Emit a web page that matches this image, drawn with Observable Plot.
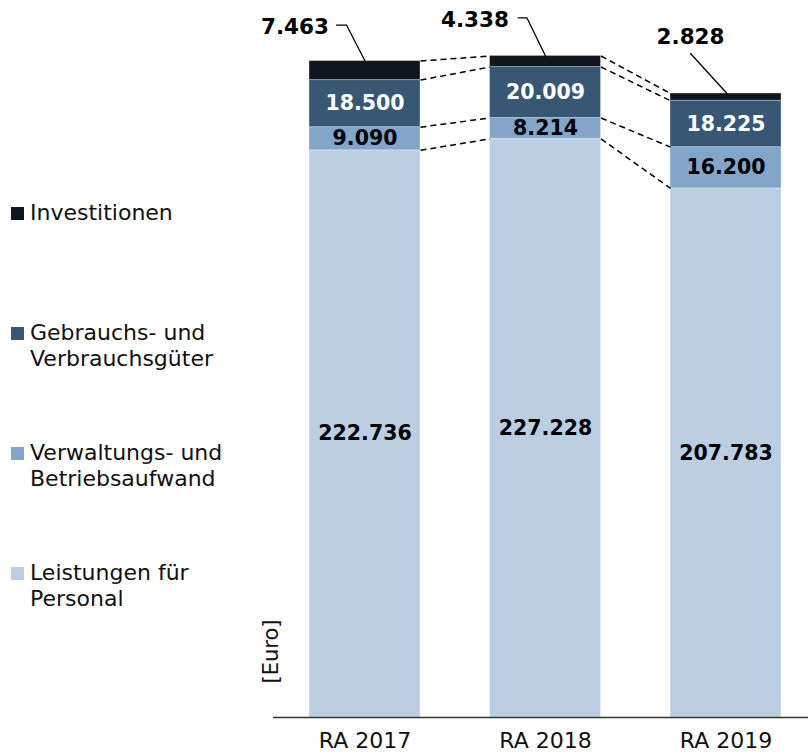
<!DOCTYPE html>
<html>
<head>
<meta charset="utf-8">
<script src="https://cdn.jsdelivr.net/npm/d3@7"></script>
<script src="https://cdn.jsdelivr.net/npm/@observablehq/plot@0.6"></script>
<style>
  html, body { margin: 0; padding: 0; background: #fff; }
  #wrap { position: relative; width: 808px; height: 755px; font-family: "DejaVu Sans", Verdana, sans-serif; }
  #legend { position: absolute; left: 0; top: 0; }
  .item { position: absolute; left: 30px; width: 215px; font-size: 22px; line-height: 26px; color: #111; }
  .sw { position: absolute; left: -19px; top: 7px; width: 13px; height: 13px; }
</style>
</head>
<body>
<div id="wrap">
  <div id="chart"></div>
  <div id="legend"></div>
</div>
<script>
// ---- data ----
const categories = ["RA 2017", "RA 2018", "RA 2019"];
const series = ["Leistungen für Personal", "Verwaltungs- und Betriebsaufwand", "Gebrauchs- und Verbrauchsgüter", "Investitionen"];
const leistungen = [222736, 227228, 207783];
const verwaltung = [9090, 8214, 16200];
const gebrauch = [18500, 20009, 18225];
const investitionen = [7463, 4338, 2828];
const colors = ["#bccfe2", "#82a5c8", "#375775", "#0f161e"];

// ---- layout ----
const W = 808, H = 755, mL = 273, mR = 0, mT = 4, mB = 38;
const xDomain = [-0.507, 2.457];
const yMax = 280000;
const xPerPx = (xDomain[1] - xDomain[0]) / (W - mL - mR);
const yPerPx = yMax / (H - mT - mB);
const hw = 55.5 * xPerPx; // half bar width

const fmt = d3.formatLocale({decimal: ",", thousands: ".", grouping: [3], currency: ["", "€"]}).format(",d");

const valueSeries = [leistungen, verwaltung, gebrauch, investitionen];
const segments = [];
const tops = []; // tops[i][k] cumulative top of segment k
categories.forEach((c, i) => {
  let acc = 0;
  tops[i] = [];
  valueSeries.forEach((vals, s) => {
    segments.push({i, s, name: series[s], y1: acc, y2: acc + vals[i], v: vals[i]});
    acc += vals[i];
    tops[i][s] = acc;
  });
});

// dashed connectors between adjacent bars at each segment boundary
const connectors = [];
for (let i = 0; i < categories.length - 1; i++) {
  for (let k = 0; k < series.length; k++) {
    connectors.push({x1: i + hw, y1: tops[i][k], x2: i + 1 - hw, y2: tops[i + 1][k]});
  }
}

// leader lines & labels for the small top segment (offsets in px)
const investLayout = [
  {anchor: "end", tx: -36, ty: -34, path: [[-28.5, -36], [-18.5, -36], [0, 0]]},
  {anchor: "end", tx: -36.5, ty: -36, path: [[-27.5, -38], [-18.5, -38], [0, 0]]},
  {anchor: "middle", tx: -35.5, ty: -56, path: [[-35.5, -40], [1, 0]]}
];
const leaderPts = [];
const investLabels = [];
categories.forEach((c, i) => {
  const total = tops[i][series.length - 1];
  const L = investLayout[i];
  L.path.forEach(([px, py]) => leaderPts.push({i, x: i + px * xPerPx, y: total - py * yPerPx}));
  investLabels.push({i, anchor: L.anchor, x: i + L.tx * xPerPx, y: total - L.ty * yPerPx, text: fmt(investitionen[i])});
});

const font = "DejaVu Sans, Verdana, sans-serif";

const plot = Plot.plot({
  width: W, height: H,
  marginLeft: mL, marginRight: mR, marginTop: mT, marginBottom: mB,
  style: {fontFamily: font, fontSize: "22px", background: "white", color: "#111"},
  x: {domain: xDomain, ticks: [0, 1, 2], tickFormat: i => categories[i], tickSize: 0, tickPadding: 15, label: null},
  y: {domain: [0, yMax], axis: null},
  color: {domain: series, range: colors},
  marks: [
    Plot.rect(segments, {x1: d => d.i - hw, x2: d => d.i + hw, y1: "y1", y2: "y2", fill: "name", stroke: "white", strokeOpacity: 0.3, strokeWidth: 1}),
    Plot.link(connectors, {x1: "x1", y1: "y1", x2: "x2", y2: "y2", stroke: "black", strokeWidth: 1.5, strokeDasharray: "6,4"}),
    Plot.ruleY([0], {stroke: "#333", strokeWidth: 1.6}),
    Plot.text(segments.filter(d => d.s < 2), {x: "i", y: d => (d.y1 + d.y2) / 2, text: d => fmt(d.v), fill: "black", fontWeight: "bold", fontSize: 20.5}),
    Plot.text(segments.filter(d => d.s === 2), {x: "i", y: d => (d.y1 + d.y2) / 2, text: d => fmt(d.v), fill: "white", fontWeight: "bold", fontSize: 20.5}),
    Plot.line(leaderPts, {x: "x", y: "y", z: "i", stroke: "black", strokeWidth: 1.3}),
    Plot.text(investLabels.filter(d => d.anchor === "end"), {x: "x", y: "y", text: "text", textAnchor: "end", fill: "black", fontWeight: "bold", fontSize: 21.5}),
    Plot.text(investLabels.filter(d => d.anchor === "middle"), {x: "x", y: "y", text: "text", textAnchor: "middle", fill: "black", fontWeight: "bold", fontSize: 21.5}),
    Plot.text(["[Euro]"], {frameAnchor: "bottom-left", rotate: -90, dx: 4, dy: -34, fontSize: 21, fill: "#111"})
  ]
});
document.getElementById("chart").appendChild(plot);

// legend (top segment first)
const legend = document.getElementById("legend");
series.slice().reverse().forEach((name, k) => {
  const item = document.createElement("div");
  item.className = "item";
  item.style.top = (199.5 + 120 * k) + "px";
  const sw = document.createElement("span");
  sw.className = "sw";
  sw.style.background = colors[series.length - 1 - k];
  item.appendChild(sw);
  item.appendChild(document.createTextNode(name));
  legend.appendChild(item);
});
</script>
</body>
</html>
